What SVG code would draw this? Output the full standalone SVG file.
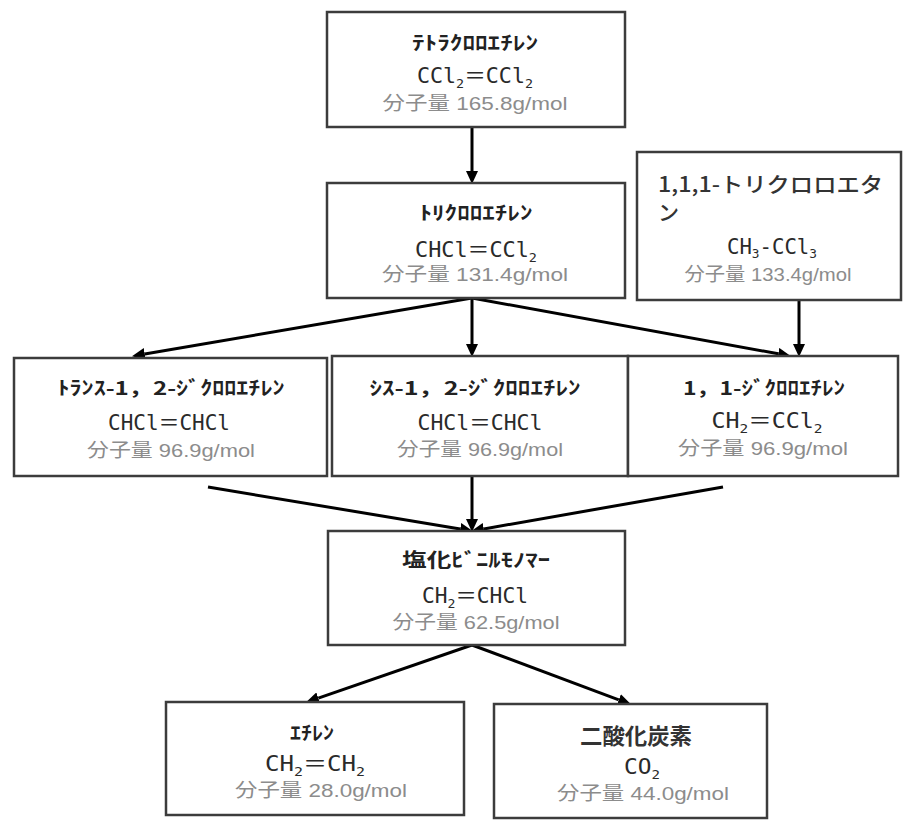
<svg xmlns="http://www.w3.org/2000/svg" width="905" height="826" viewBox="0 0 905 826">
<style>
.box{fill:#fff;stroke:#3c3c3c;stroke-width:2.5}
.t{font-family:"Noto Sans CJK JP",sans-serif;font-weight:bold;font-size:19px;fill:#222}
.f{font-family:"DejaVu Sans Mono","Noto Sans CJK JP",monospace;font-size:21px;fill:#2a2a2a}
.s{font-size:13px}
.m{font-family:"Liberation Sans","Noto Sans CJK JP",sans-serif;font-size:19px;fill:#8c8c8c}
.c{stroke:#000;stroke-width:3;fill:none;marker-end:url(#ah)}
</style>
<defs>
<marker id="ah" markerUnits="userSpaceOnUse" markerWidth="14" markerHeight="12" refX="0" refY="6" orient="auto">
<path d="M0,0 L13,6 L0,12 z" fill="#000"/>
</marker>
</defs>
<rect width="905" height="826" fill="#fff"/>
<g id="connectors">
<line class="c" x1="472" y1="127" x2="472" y2="171"/>
<line class="c" x1="472" y1="298" x2="144.8" y2="354"/>
<line class="c" x1="472" y1="298" x2="472" y2="344"/>
<line class="c" x1="472" y1="298" x2="778.2" y2="353.8"/>
<line class="c" x1="799" y1="300" x2="799" y2="344"/>
<line class="c" x1="208" y1="487" x2="460.2" y2="529"/>
<line class="c" x1="472" y1="476" x2="472" y2="519"/>
<line class="c" x1="723" y1="487" x2="483.8" y2="528.9"/>
<line class="c" x1="472" y1="645" x2="318.3" y2="698.1"/>
<line class="c" x1="472" y1="645" x2="618.8" y2="699.8"/>
</g>
<g id="tetrachloroethylene">
<rect class="box" x="327" y="12" width="298" height="115"/>
<text class="t" x="475" y="50" text-anchor="middle" textLength="126" lengthAdjust="spacingAndGlyphs">ﾃﾄﾗｸﾛﾛｴﾁﾚﾝ</text>
<text class="f" x="475" y="83" text-anchor="middle" textLength="116" lengthAdjust="spacingAndGlyphs">CCl<tspan class="s" dy="5">2</tspan><tspan dy="-5">＝CCl</tspan><tspan class="s" dy="5">2</tspan></text>
<text class="m" x="475" y="110" text-anchor="middle" textLength="185" lengthAdjust="spacingAndGlyphs">分子量 165.8g/mol</text>
</g>
<g id="trichloroethylene">
<rect class="box" x="327" y="183" width="298" height="115"/>
<text class="t" x="476" y="220" text-anchor="middle" textLength="113" lengthAdjust="spacingAndGlyphs">ﾄﾘｸﾛﾛｴﾁﾚﾝ</text>
<text class="f" x="476" y="257" text-anchor="middle" textLength="122" lengthAdjust="spacingAndGlyphs">CHCl＝CCl<tspan class="s" dy="5">2</tspan></text>
<text class="m" x="475" y="281" text-anchor="middle" textLength="186" lengthAdjust="spacingAndGlyphs">分子量 131.4g/mol</text>
</g>
<g id="trichloroethane">
<rect class="box" x="637" y="152" width="264" height="148"/>
<text x="658" y="192" textLength="225" lengthAdjust="spacingAndGlyphs" style="font-family:'Noto Sans CJK JP',sans-serif;font-weight:500;font-size:21px;fill:#333">1,1,1-トリクロロエタ</text>
<text x="658" y="220" style="font-family:'Noto Sans CJK JP',sans-serif;font-weight:500;font-size:21px;fill:#333">ン</text>
<text class="f" x="772" y="254" text-anchor="middle" textLength="90" lengthAdjust="spacingAndGlyphs">CH<tspan class="s" dy="4">3</tspan><tspan dy="-4">-CCl</tspan><tspan class="s" dy="4">3</tspan></text>
<text class="m" x="768" y="281" text-anchor="middle" textLength="167" lengthAdjust="spacingAndGlyphs">分子量 133.4g/mol</text>
</g>
<g id="trans-dichloroethylene">
<rect class="box" x="14" y="358" width="313" height="118"/>
<text class="t" x="171" y="395" text-anchor="middle" textLength="227" lengthAdjust="spacingAndGlyphs">ﾄﾗﾝｽ-1，2-ｼﾞｸﾛﾛｴﾁﾚﾝ</text>
<text class="f" x="169" y="430" text-anchor="middle" textLength="122" lengthAdjust="spacingAndGlyphs">CHCl＝CHCl</text>
<text class="m" x="171" y="457" text-anchor="middle" textLength="168" lengthAdjust="spacingAndGlyphs">分子量 96.9g/mol</text>
</g>
<g id="cis-dichloroethylene">
<rect class="box" x="332" y="356" width="296" height="120"/>
<text class="t" x="475" y="395" text-anchor="middle" textLength="211" lengthAdjust="spacingAndGlyphs">ｼｽ-1，2-ｼﾞｸﾛﾛｴﾁﾚﾝ</text>
<text class="f" x="480" y="430" text-anchor="middle" textLength="125" lengthAdjust="spacingAndGlyphs">CHCl＝CHCl</text>
<text class="m" x="480" y="456" text-anchor="middle" textLength="166" lengthAdjust="spacingAndGlyphs">分子量 96.9g/mol</text>
</g>
<g id="dichloroethylene-11">
<rect class="box" x="628" y="356" width="270" height="120"/>
<text class="t" x="764" y="395" text-anchor="middle" textLength="162" lengthAdjust="spacingAndGlyphs">1，1-ｼﾞｸﾛﾛｴﾁﾚﾝ</text>
<text class="f" x="767" y="428" text-anchor="middle" textLength="111" lengthAdjust="spacingAndGlyphs">CH<tspan class="s" dy="5">2</tspan><tspan dy="-5">＝CCl</tspan><tspan class="s" dy="5">2</tspan></text>
<text class="m" x="763" y="455" text-anchor="middle" textLength="170" lengthAdjust="spacingAndGlyphs">分子量 96.9g/mol</text>
</g>
<g id="vinyl-chloride">
<rect class="box" x="328" y="531" width="297" height="114"/>
<text class="t" x="476" y="567" text-anchor="middle" textLength="148" lengthAdjust="spacingAndGlyphs">塩化ﾋﾞﾆﾙﾓﾉﾏｰ</text>
<text class="f" x="475" y="603" text-anchor="middle" textLength="106" lengthAdjust="spacingAndGlyphs">CH<tspan class="s" dy="5">2</tspan><tspan dy="-5">＝CHCl</tspan></text>
<text class="m" x="476" y="629" text-anchor="middle" textLength="167" lengthAdjust="spacingAndGlyphs">分子量 62.5g/mol</text>
</g>
<g id="ethylene">
<rect class="box" x="166" y="702" width="298" height="113"/>
<text class="t" x="312" y="740" text-anchor="middle" textLength="44" lengthAdjust="spacingAndGlyphs">ｴﾁﾚﾝ</text>
<text class="f" x="315" y="771" text-anchor="middle" textLength="100" lengthAdjust="spacingAndGlyphs">CH<tspan class="s" dy="5">2</tspan><tspan dy="-5">＝CH</tspan><tspan class="s" dy="5">2</tspan></text>
<text class="m" x="321" y="797" text-anchor="middle" textLength="172" lengthAdjust="spacingAndGlyphs">分子量 28.0g/mol</text>
</g>
<g id="carbon-dioxide">
<rect class="box" x="494" y="704" width="273" height="114"/>
<text class="t" x="636" y="744" text-anchor="middle" textLength="112" lengthAdjust="spacingAndGlyphs" style="font-size:22px;fill:#333">二酸化炭素</text>
<text class="f" x="642" y="774" text-anchor="middle" textLength="36" lengthAdjust="spacingAndGlyphs">CO<tspan class="s" dy="5">2</tspan></text>
<text class="m" x="643" y="800" text-anchor="middle" textLength="172" lengthAdjust="spacingAndGlyphs">分子量 44.0g/mol</text>
</g>
</svg>
